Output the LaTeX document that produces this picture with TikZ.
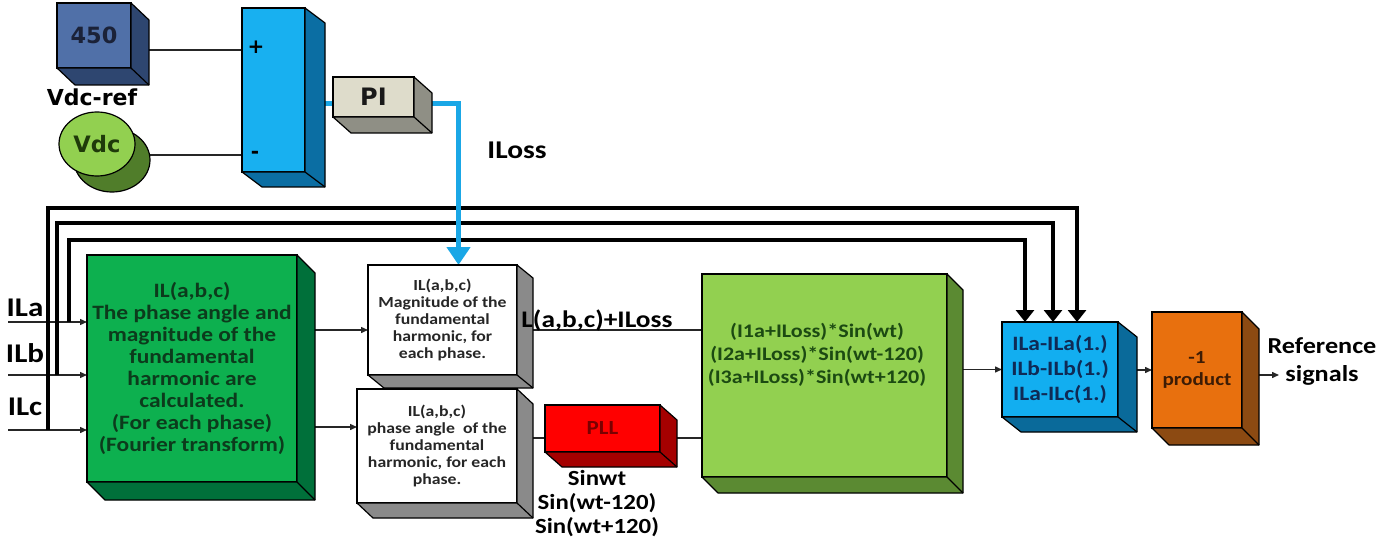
\documentclass[tikz,border=0pt]{standalone}
\usepackage{fontspec}
\setmainfont{Carlito}[FakeStretch=1.15]
\newfontfamily\dvs{DejaVu Sans}
\usetikzlibrary{calc,arrows.meta,shapes.geometric}
\pgfdeclarelayer{bg}
\pgfsetlayers{bg,main}
\definecolor{c450f}{HTML}{5070A8}
\definecolor{c450s}{HTML}{2E4670}
\definecolor{c450t}{HTML}{1B2238}
\definecolor{vdcf}{HTML}{92D050}
\definecolor{vdcs}{HTML}{507D2A}
\definecolor{vdct}{HTML}{1F3A0A}
\definecolor{sumf}{HTML}{18B0F0}
\definecolor{sums}{HTML}{0B6EA3}
\definecolor{pif}{HTML}{DEDCCB}
\definecolor{pis}{HTML}{8F8F85}
\definecolor{lossblue}{HTML}{1AA7E6}
\definecolor{gf}{HTML}{0DB04F}
\definecolor{gs}{HTML}{00703A}
\definecolor{gt}{HTML}{0C3B1C}
\definecolor{greys}{HTML}{8A8A8A}
\definecolor{pllf}{HTML}{FF0000}
\definecolor{plls}{HTML}{A50000}
\definecolor{pllt}{HTML}{7A0000}
\definecolor{lgf}{HTML}{92D050}
\definecolor{lgs}{HTML}{5B8A32}
\definecolor{lgt}{HTML}{1C4A12}
\definecolor{bluef}{HTML}{12AEF0}
\definecolor{blues}{HTML}{0A6A9A}
\definecolor{bluet}{HTML}{0F2A55}
\definecolor{orf}{HTML}{E8700E}
\definecolor{ors}{HTML}{8C4A12}
\definecolor{ort}{HTML}{3D1C05}
\newcommand\depthfaces[4]{%
  \draw[fill=#4, line width=0.6pt, line join=round] (#1.north east) -- ++(#2,#3) -- ($(#1.south east)+(#2,#3)$) -- ($(#1.south west)+(#2,#3)$) -- (#1.south west) -- (#1.south east) -- cycle;
  \draw[line width=0.6pt] (#1.south east) -- ++(#2,#3);
}
\begin{document}
\begin{tikzpicture}[x=0.5pt,y=-0.5pt,
  box/.style={draw=black, line width=0.6pt, inner sep=0pt, outer sep=0pt, align=center},
  lbl/.style={inner sep=0pt, align=center},
  wire/.style={line width=0.7pt, draw=black!85},
  warrow/.style={wire, -{Triangle[length=3.5pt,width=3pt]}},
  bus/.style={line width=2pt, draw=black, -{Triangle[length=6pt,width=9pt]}},
  lossline/.style={draw=lossblue, line width=2.5pt}]
\useasboundingbox (0,0) rectangle (1395,545);

% top-left part
\node[box, fill=c450f, minimum width=37pt, minimum height=32.5pt, text=c450t, font=\dvs\bfseries\fontsize{11.2}{13}\selectfont] (b450) at (94,35.5) {450};
\depthfaces{b450}{18}{17}{c450s}
\node[lbl, font=\dvs\bfseries\fontsize{11}{13}\selectfont] (vdcref) at (92,97) {Vdc-ref};
\draw[line width=0.6pt, fill=vdcs] (112,160) ellipse [x radius=19pt, y radius=16pt];
\node[draw, line width=0.6pt, ellipse, fill=vdcf, minimum width=38pt, minimum height=32pt, inner sep=0pt, text=vdct, font=\dvs\bfseries\fontsize{11.3}{13}\selectfont] (vdc) at (97,144) {Vdc};

\node[box, fill=sumf, minimum width=31.5pt, minimum height=82pt] (sum) at (273.5,90) {};
\depthfaces{sum}{20}{15}{sums}
\node[lbl, font=\dvs\bfseries\fontsize{10}{12}\selectfont] (plus) at (256,47) {+};
\node[lbl, font=\dvs\bfseries\fontsize{10}{12}\selectfont] (minus) at (255,155) {-};

\node[box, fill=pif, minimum width=40.5pt, minimum height=20pt, text=black!90, font=\dvs\bfseries\fontsize{12}{13}\selectfont] (pi) at (373.5,97) {PI};
\depthfaces{pi}{18}{16}{pis}
\node[lbl, font=\bfseries\fontsize{12.8}{15}\selectfont] (iloss) at (517,150) {ILoss};

% inputs
\node[lbl, font=\bfseries\fontsize{13.5}{14}\selectfont] (ila) at (25,308) {ILa};
\node[lbl, font=\bfseries\fontsize{13.5}{14}\selectfont] (ilb) at (25,353) {ILb};
\node[lbl, font=\bfseries\fontsize{13.5}{14}\selectfont] (ilc) at (25,407) {ILc};
\coordinate (ina) at (8,322);
\coordinate (inb) at (8,375);
\coordinate (inc) at (8,430);
\coordinate (ja) at (69,322);
\coordinate (jb) at (57,375);
\coordinate (jc) at (48,430);

% main blocks
\node[box, fill=gf, minimum width=105pt, minimum height=113.5pt, text=gt, font=\bfseries\fontsize{10.2}{11}\selectfont] (green) at (192,368.5) {IL(a,b,c)\\The phase angle and\\magnitude of the\\fundamental\\harmonic are\\calculated.\\(For each phase)\\(Fourier transform)};
\depthfaces{green}{18}{18}{gs}

\node[box, fill=white, minimum width=74.5pt, minimum height=55pt, text=black!85, font=\bfseries\fontsize{7.7}{8.5}\selectfont] (mag) at (442.5,320) {IL(a,b,c)\\Magnitude of the\\fundamental\\harmonic, for\\each phase.};
\depthfaces{mag}{16}{13}{greys}
\node[box, fill=white, minimum width=80pt, minimum height=57pt, text=black!85, font=\bfseries\fontsize{7.7}{8.5}\selectfont] (phase) at (437,446) {IL(a,b,c)\\phase angle\ \ of the\\fundamental\\harmonic, for each\\phase.};
\depthfaces{phase}{16}{15}{greys}

\node[lbl, anchor=base west, font=\bfseries\fontsize{11.9}{14}\selectfont] (suml) at (521,327) {L(a,b,c)+ILoss};

\node[box, fill=pllf, minimum width=57.5pt, minimum height=23.5pt, text=pllt, font=\bfseries\fontsize{10}{10}\selectfont] (pll) at (602.5,428.5) {PLL};
\depthfaces{pll}{17}{15}{plls}
\node[lbl, font=\bfseries\fontsize{10.8}{12}\selectfont] (sinwt) at (597,504) {Sinwt\\Sin(wt-120)\\Sin(wt+120)};

\node[box, fill=lgf, minimum width=122.5pt, minimum height=101.5pt] (lg) at (824.5,375.5) {};
\depthfaces{lg}{16}{16}{lgs}
\node[lbl, text=lgt, font=\bfseries\fontsize{9.6}{11.5}\selectfont] (lgtext) at (817,355) {(I1a+ILoss)*Sin(wt)\\(I2a+ILoss)*Sin(wt-120)\\(I3a+ILoss)*Sin(wt+120)};

\node[box, fill=bluef, minimum width=58pt, minimum height=47.5pt, text=bluet, font=\bfseries\fontsize{10.2}{12.5}\selectfont] (blue) at (1060,369.5) {ILa-ILa(1.)\\ILb-ILb(1.)\\ILa-ILc(1.)};
\depthfaces{blue}{19}{15}{blues}

\node[box, fill=orf, minimum width=45pt, minimum height=58pt, text=ort, font=\bfseries\fontsize{9.2}{11}\selectfont] (orange) at (1197,370) {-1\\product};
\depthfaces{orange}{17}{17}{ors}

\node[lbl, font=\bfseries\fontsize{11.4}{14}\selectfont] (ref) at (1322,362) {Reference\\signals};
\coordinate (refin) at (1279,375);

% connectors
\begin{pgfonlayer}{bg}
\coordinate (sump) at ($(sum.north west)+(0,42)$);
\coordinate (summ) at ($(sum.north west)+(0,147)$);
\draw[wire] (sump -| b450.east) -- (sump);
\draw[wire] (summ -| vdc.east) -- (summ);

\draw[warrow] (ina) -- (ina -| green.west);
\draw[warrow] (inb) -- (inb -| green.west);
\draw[warrow] (inc) -- (inc -| green.west);

\coordinate (ta) at ($(blue.north)+(-35,0)$);
\coordinate (tb) at ($(blue.north)+(-7,0)$);
\coordinate (tc) at ($(blue.north)+(17,0)$);
\draw[bus] (ja) |- ($(ta)+(0,-82)$) -- (ta);
\draw[bus] (jb) |- ($(tb)+(0,-99)$) -- (tb);
\draw[bus] (jc) |- ($(tc)+(0,-114)$) -- (tc);

\coordinate (pil) at ($(pi.west)+(0,7)$);
\coordinate (pir) at ($(pi.east)+(0,7)$);
\coordinate (lossin) at ($(mag.north)+(16,0)$);
\draw[lossline] (pil -| sum.east) -- (pil);
\draw[lossline, -{Triangle[length=9pt,width=11.5pt]}] (pir) -| (lossin);

\coordinate (ma) at ($(mag.west)+(0,10)$);
\coordinate (pa) at ($(phase.west)+(0,-19)$);
\draw[warrow] (ma -| green.east) -- (ma);
\draw[warrow] (pa -| green.east) -- (pa);

\coordinate (lga) at ($(lg.west)+(0,-45.5)$);
\coordinate (pl) at ($(pll.west)+(0,9.5)$);
\coordinate (lgb) at ($(lg.west)+(0,62.5)$);
\draw[wire] (lga -| mag.east) -- (lga);
\draw[wire] (pl -| phase.east) -- (pl);
\draw[wire] (lgb -| pll.east) -- (lgb);

\draw[warrow] (blue.west -| lg.east) -- (blue.west);
\draw[warrow] (orange.west -| blue.east) -- (orange.west);
\draw[warrow] (orange.east |- refin) -- (refin);
\end{pgfonlayer}
\end{tikzpicture}
\end{document}
